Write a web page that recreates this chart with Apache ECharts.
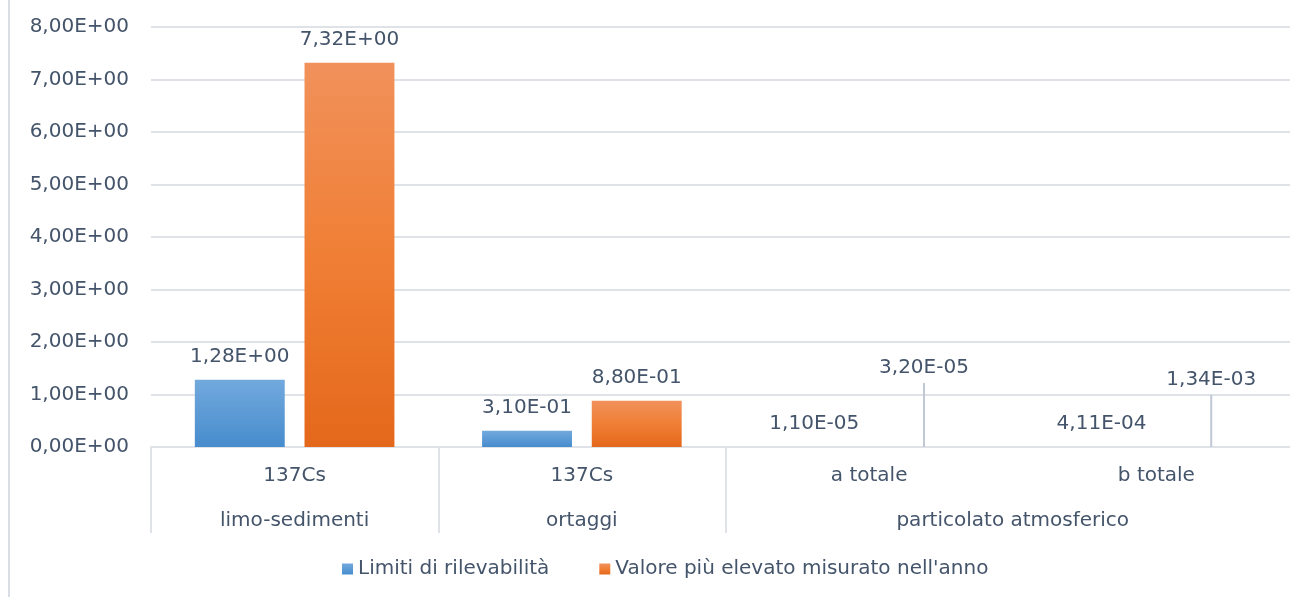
<!DOCTYPE html>
<html>
<head>
<meta charset="utf-8">
<script src="https://cdn.jsdelivr.net/npm/echarts@6/dist/echarts.min.js"></script>
<style>html,body{margin:0;padding:0;background:#fff}#c{width:1290px;height:597px}</style>
</head>
<body>
<div id="c"></div>
<script>
// ---- data ----
const categories = ['137Cs', '137Cs', 'a totale', 'b totale'];
const groups = ['limo-sedimenti', 'ortaggi', 'particolato atmosferico'];
const groupSpans = [1, 1, 2];
const seriesNames = ['Limiti di rilevabilità', "Valore più elevato misurato nell'anno"];
const limitValues = [1.28, 0.31, 1.1e-5, 4.11e-4];
const maxValues = [7.32, 0.88, 3.2e-5, 1.34e-3];
const yTicks = [0, 1, 2, 3, 4, 5, 6, 7, 8];

// ---- styling helpers ----
const leaderLen = {2: 64, 3: 52};
const FONT = 'DejaVu Sans';
const TXT = '#44546A';
const GRID = '#DFE3E8';

function sci(v) {
  if (v === 0) return '0,00E+00';
  let e = Math.floor(Math.log10(Math.abs(v)));
  let m = v / Math.pow(10, e);
  if (Math.round(m * 100) / 100 >= 10) { m /= 10; e++; }
  return m.toFixed(2).replace('.', ',') + 'E' + (e < 0 ? '-' : '+') + String(Math.abs(e)).padStart(2, '0');
}

// group centers & boundaries derived from spans
const groupCenters = [];
const groupStarts = [];
let acc = 0;
groupSpans.forEach(s => { groupStarts.push(acc); groupCenters.push(acc + s / 2); acc += s; });

const chart = echarts.init(document.getElementById('c'), null, {renderer: 'canvas'});

const orangeData = maxValues.map((v, i) => leaderLen[i] ? {
  value: v,
  label: {
    distance: 0,
    rich: {
      v: {fontFamily: FONT, fontSize: 20, color: TXT, lineHeight: 30},
      l: {width: 2, height: leaderLen[i], backgroundColor: '#BFC8D4'}
    }
  }
} : v);

const option = {
  animation: false,
  textStyle: {fontFamily: FONT},
  graphic: [{
    type: 'line', shape: {x1: 9, y1: 0, x2: 9, y2: 597},
    style: {stroke: '#D9DEE5', lineWidth: 2}, silent: true
  }],
  grid: {left: 151, right: -10, top: 27, bottom: 150, containLabel: false, outerBoundsMode: 'none'},
  legend: {
    bottom: 13, left: 337,
    itemWidth: 11, itemHeight: 11, itemGap: 50, icon: 'rect',
    selectedMode: false,
    textStyle: {fontFamily: FONT, fontSize: 20, color: TXT},
    data: seriesNames
  },
  xAxis: [{
    type: 'category',
    data: categories,
    axisLine: {lineStyle: {color: GRID, width: 2}},
    axisTick: {show: true, length: 86, lineStyle: {color: GRID, width: 2},
      interval: function (index) { return groupStarts.indexOf(index) >= 0; }},
    axisLabel: {interval: 0, margin: 19, fontFamily: FONT, fontSize: 20, color: TXT}
  }, {
    type: 'value', min: 0, max: categories.length, interval: 0.5,
    position: 'bottom', offset: 45,
    axisLine: {show: false}, axisTick: {show: false}, splitLine: {show: false},
    axisLabel: {
      margin: 19, fontFamily: FONT, fontSize: 20, color: TXT,
      showMinLabel: true, showMaxLabel: true,
      formatter: function (v) {
        const i = groupCenters.findIndex(c => Math.abs(c - v) < 1e-9);
        return i >= 0 ? groups[i] : '';
      }
    }
  }],
  yAxis: {
    type: 'value', min: yTicks[0], max: yTicks[yTicks.length - 1], interval: 1,
    axisLine: {show: false}, axisTick: {show: false},
    splitLine: {lineStyle: {color: GRID, width: 2}},
    axisLabel: {margin: 22, fontFamily: FONT, fontSize: 20, color: TXT, formatter: v => sci(v)}
  },
  series: [{
    name: seriesNames[0], type: 'bar', xAxisIndex: 0,
    data: limitValues, barWidth: '31.3%', barGap: '22%',
    itemStyle: {color: new echarts.graphic.LinearGradient(0, 0, 0, 1, [
      {offset: 0, color: '#72A9DD'}, {offset: 1, color: '#478CCD'}])},
    label: {show: true, position: 'top', distance: 13, fontFamily: FONT, fontSize: 20, color: TXT,
      formatter: p => sci(p.value)}
  }, {
    name: seriesNames[1], type: 'bar', xAxisIndex: 0,
    data: orangeData, barWidth: '31.3%', barGap: '22%',
    itemStyle: {color: new echarts.graphic.LinearGradient(0, 0, 0, 1, [
      {offset: 0, color: '#F1915B'}, {offset: 0.5, color: '#F07F35'}, {offset: 1, color: '#E4681B'}])},
    label: {show: true, position: 'top', distance: 13, fontFamily: FONT, fontSize: 20, color: TXT,
      formatter: p => leaderLen[p.dataIndex] ? '{v|' + sci(p.value) + '}\n{l|}' : sci(p.value)}
  }]
};
chart.setOption(option);
</script>
</body>
</html>
